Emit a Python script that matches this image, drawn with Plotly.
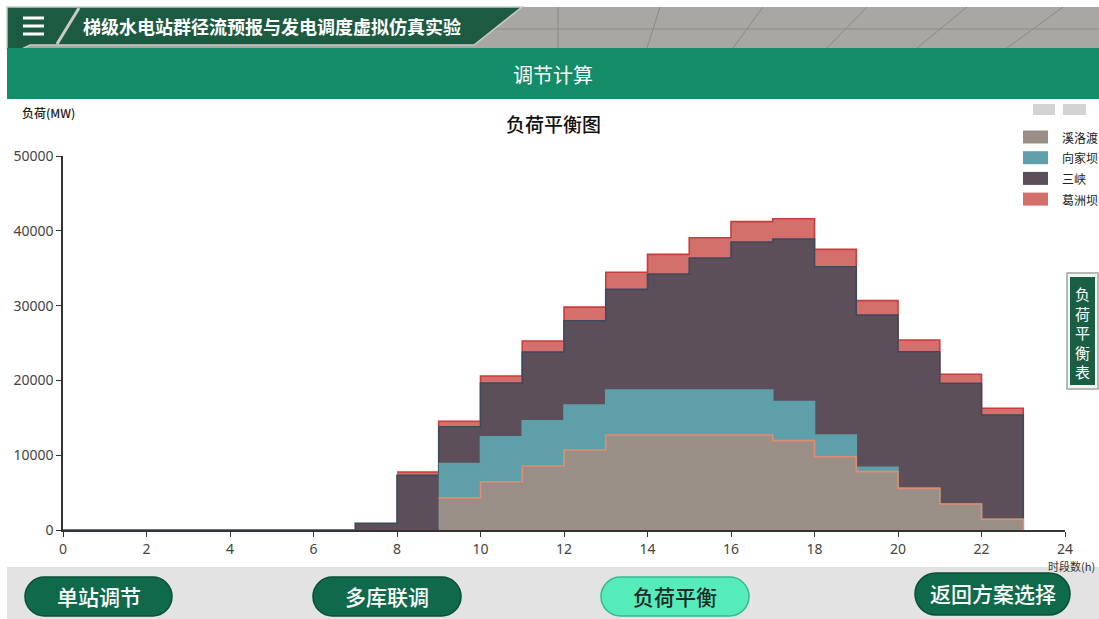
import plotly.graph_objects as go

# Hourly output of each station (MW); None = station not yet dispatched
hours = list(range(24))
xiluodu = [None] * 9 + [4300, 6450, 8550, 10700, 12700, 12700, 12700, 12700,
                        11950, 9800, 7800, 5570, 3480, 1430, 0]
xiangjiaba = [None] * 9 + [4600, 6020, 6050, 6020, 6020, 6020, 6020, 6020,
                           5210, 2900, 580, 0, 0, 0, 0]
sanxia = [0, 0, 0, 0, 0, 0, 0, 900, 7300, 4900, 7180, 9200, 11250, 13450,
          15500, 17640, 19780, 21740, 22500, 20360, 18270, 16130, 13940, 0]
gezhouba = [None] * 8 + [450, 730, 940, 1470, 1820, 2280, 2630, 2720, 2720,
                         2720, 2320, 1920, 1560, 1210, 900, 0]

stations = ["溪洛渡", "向家坝", "三峡", "葛洲坝"]
series = [xiluodu, xiangjiaba, sanxia, gezhouba]
fills = ["#9A8F86", "#5E9FA9", "#5D4F59", "#D4706C"]
edges = ["#E08C70", "#5E9FA9", "#3D4A5C", "#CD3B3C"]

x_ticks = list(range(0, 25, 2))
y_ticks = [0, 10000, 20000, 30000, 40000, 50000]

# cumulative stack, bottom to top
cum = []
running = [0] * len(hours)
for s in series:
    running = [r + (v or 0) for r, v in zip(running, s)]
    cum.append([r if v is not None else None for r, v in zip(running, s)])

fig = go.Figure()
# draw the top layer first so each lower layer paints over it
for i in reversed(range(len(series))):
    fig.add_trace(go.Scatter(
        x=hours, y=cum[i], name=stations[i], mode="lines",
        line=dict(shape="hv", color=edges[i], width=1.6),
        fill="tozeroy", fillcolor=fills[i], showlegend=False,
        hoverinfo="skip"))

W, H = 1099, 619
L, R, T, B = 63, 1065, 156, 530


def fx(px):
    return (px - L) / (R - L)


def fy(py):
    return (B - py) / (B - T)


shapes = []
annotations = []


def rect(x0, y0, x1, y1, fill, line=None, lw=0, layer="above"):
    shapes.append(dict(type="rect", xref="paper", yref="paper",
                       x0=fx(x0), x1=fx(x1), y0=fy(y1), y1=fy(y0),
                       fillcolor=fill, layer=layer,
                       line=dict(color=line or fill, width=lw)))


def poly(pts, fill, line=None, lw=0):
    d = "M " + " L ".join(f"{fx(a):.5f},{fy(b):.5f}" for a, b in pts) + " Z"
    shapes.append(dict(type="path", xref="paper", yref="paper", path=d,
                       fillcolor=fill, layer="above",
                       line=dict(color=line or fill, width=lw)))


def seg(x0, y0, x1, y1, color, w):
    shapes.append(dict(type="line", xref="paper", yref="paper",
                       x0=fx(x0), y0=fy(y0), x1=fx(x1), y1=fy(y1),
                       layer="above", line=dict(color=color, width=w)))


def pill(x0, y0, x1, y1, fill, line, lw=1.5):
    r = (y1 - y0) / 2
    k = 0.5523 * r

    def p(a, b):
        return f"{fx(a):.5f},{fy(b):.5f}"
    d = (f"M {p(x0 + r, y0)} L {p(x1 - r, y0)} "
         f"C {p(x1 - r + k, y0)} {p(x1, y0 + r - k)} {p(x1, y0 + r)} "
         f"C {p(x1, y0 + r + k)} {p(x1 - r + k, y1)} {p(x1 - r, y1)} "
         f"L {p(x0 + r, y1)} "
         f"C {p(x0 + r - k, y1)} {p(x0, y0 + r + k)} {p(x0, y0 + r)} "
         f"C {p(x0, y0 + r - k)} {p(x0 + r - k, y0)} {p(x0 + r, y0)} Z")
    shapes.append(dict(type="path", xref="paper", yref="paper", path=d,
                       fillcolor=fill, layer="above",
                       line=dict(color=line, width=lw)))


def text(px, py, s, size, color, xanchor="center", yanchor="middle",
         weight="normal", family="Noto Sans CJK SC"):
    annotations.append(dict(xref="paper", yref="paper", x=fx(px), y=fy(py),
                            text=s, showarrow=False, xanchor=xanchor,
                            yanchor=yanchor,
                            font=dict(size=size, color=color, family=family,
                                      weight=weight)))


# ---- top banner: tiled grey ceiling with dark green title plate ----
rect(7, 7, W, 48, "#A9A7A2")
seg(7, 29, W, 29, "#8C8A86", 1)
seg(558, 7, 558, 48, "#8C8A86", 1)
for top, bot in [(660, 647), (763, 733), (867, 827), (967, 917), (1063, 1007)]:
    seg(top, 7, bot, 48, "#8C8A86", 1)
poly([(7, 7), (522, 7), (474, 45), (30, 45), (22, 49), (7, 49)],
     "#1C5A42", "#C9CBC6", 1.5)
seg(79, 8, 57, 44, "#C9CBC6", 3)
for yy in (18, 26, 34):
    seg(23, yy, 44, yy, "white", 3)
text(272, 26, "梯级水电站群径流预报与发电调度虚拟仿真实验", 18, "white",
     weight="bold")

# ---- green section bar ----
rect(7, 48, W, 99, "#148C68")
text(553, 74, "调节计算", 20, "white")

# ---- chart titles and custom legend ----
text(553, 123, "负荷平衡图", 19, "#111111", weight=500)
text(20, 112, "负荷(MW)", 12, "#222222", xanchor="left", weight=500)
text(1097, 566, "时段数(h)", 11, "#333333", xanchor="right")
rect(1033, 104, 1055, 115, "#D3D3D3")
rect(1063, 104, 1086, 115, "#D3D3D3")
for i, (name, col) in enumerate(zip(stations, fills)):
    yy = 137 + i * 20.7
    rect(1023, yy - 6.5, 1048, yy + 6.5, col)
    text(1060, yy, name, 12, "#222222", xanchor="left")

# ---- side tab ----
rect(1067, 273, 1098, 389, "#F4F6F4", "#9DA7A0", 1.5)
rect(1070, 277, 1095, 385, "#1A5E44")
text(1082.5, 332, "负<br>荷<br>平<br>衡<br>表", 15, "white")

# ---- bottom button bar ----
rect(7, 567, W, H, "#E3E3E3", layer="below")
buttons = [("单站调节", 25, 577, 172, 616, "#0F6A4C", "#0A4F38", "white"),
           ("多库联调", 313, 577, 461, 616, "#0F6A4C", "#0A4F38", "white"),
           ("负荷平衡", 601, 577, 749, 616, "#55EBBA", "#36B98F", "#1E2A26"),
           ("返回方案选择", 915, 573, 1070, 615, "#0F6A4C", "#0A4F38", "white")]
for label, x0, y0, x1, y1, fc, lc, tc in buttons:
    pill(x0, y0, x1, y1, fc, lc)
    text((x0 + x1) / 2, (y0 + y1) / 2 - 1, label, 21, tc, weight=500)

fig.update_layout(
    width=W, height=H,
    margin=dict(l=L, r=W - R, t=T, b=H - B, pad=0),
    paper_bgcolor="white", plot_bgcolor="white",
    showlegend=False,
    shapes=shapes, annotations=annotations,
    xaxis=dict(range=[0, 24], tickvals=x_ticks, ticks="outside", ticklen=5,
               tickcolor="#333333", showline=True, linecolor="#333333",
               linewidth=1.5, showgrid=False, zeroline=False,
               tickfont=dict(size=14, color="#444444", family="Noto Sans")),
    yaxis=dict(range=[0, 50000], tickvals=y_ticks, tickformat="d",
               ticks="outside", ticklen=5, tickcolor="#333333",
               showline=True, linecolor="#333333", linewidth=1.5,
               showgrid=False, zeroline=False,
               tickfont=dict(size=14, color="#444444", family="Noto Sans")),
)

fig.write_html("out.html")
